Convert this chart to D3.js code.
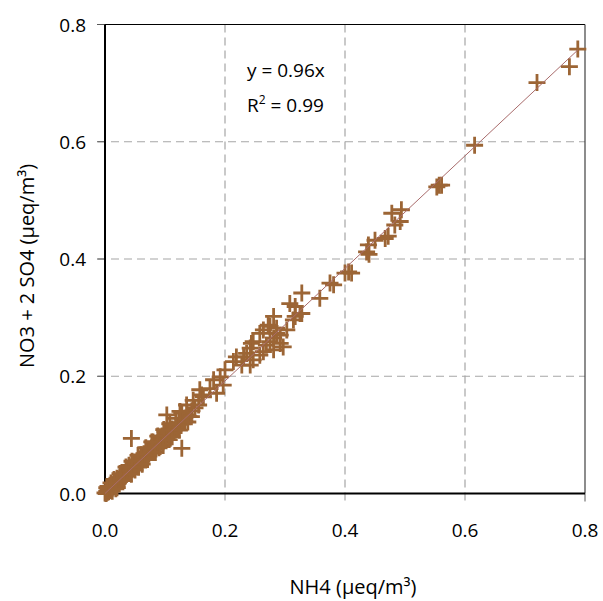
<!DOCTYPE html>
<html>
<head>
<meta charset="utf-8">
<script src="https://cdn.jsdelivr.net/npm/d3@7"></script>
<style>
  body { margin: 0; background: #fff; }
  text { font-family: "Open Sans", sans-serif; fill: #000; }
</style>
</head>
<body>
<div id="chart"></div>
<script>
// NH4 (x) and NO3 + 2 SO4 (y), µeq/m³
const nh4 = [
  0.000, 0.002, 0.003, 0.004, 0.005, 0.006, 0.007, 0.008, 0.009, 0.010,
  0.011, 0.012, 0.013, 0.014, 0.015, 0.016, 0.017, 0.018, 0.019, 0.020,
  0.021, 0.022, 0.023, 0.024, 0.025, 0.026, 0.027, 0.028, 0.029, 0.030,
  0.031, 0.032, 0.033, 0.034, 0.035, 0.036, 0.037, 0.038, 0.039, 0.040,
  0.041, 0.042, 0.043, 0.044, 0.045, 0.046, 0.047, 0.048, 0.049, 0.050,
  0.052, 0.053, 0.054, 0.055, 0.057, 0.058, 0.060, 0.061, 0.063, 0.064,
  0.066, 0.067, 0.069, 0.070, 0.072, 0.073, 0.075, 0.076, 0.078, 0.080,
  0.082, 0.083, 0.085, 0.087, 0.089, 0.090, 0.092, 0.094, 0.096, 0.098,
  0.100, 0.102, 0.104, 0.106, 0.108, 0.110, 0.112, 0.115, 0.118, 0.120,
  0.123, 0.126, 0.130, 0.133, 0.137, 0.140, 0.145, 0.150,
  0.005, 0.012, 0.020, 0.030, 0.040, 0.050, 0.060, 0.070, 0.080, 0.090,
  0.100, 0.110, 0.065, 0.085, 0.095, 0.115,
  0.015, 0.025, 0.035, 0.045, 0.055, 0.068, 0.078, 0.088, 0.098, 0.108,
  0.118, 0.128, 0.020, 0.032, 0.044, 0.056, 0.071, 0.084, 0.097, 0.112,
  0.124, 0.138, 0.010, 0.003, 0.018, 0.062, 0.092, 0.107,
  0.044, 0.128, 0.103, 0.136, 0.144, 0.125, 0.161,
  0.147, 0.156, 0.164, 0.158, 0.186, 0.175, 0.197, 0.181, 0.192, 0.200,
  0.242, 0.214, 0.219, 0.258, 0.236, 0.244, 0.269, 0.292, 0.258, 0.286,
  0.275, 0.314, 0.328, 0.317,
  0.228, 0.247, 0.231, 0.281, 0.264, 0.242, 0.247, 0.275, 0.297, 0.281,
  0.303, 0.292, 0.286, 0.264, 0.272, 0.281, 0.317, 0.325, 0.308, 0.358,
  0.328, 0.375, 0.381, 0.400, 0.406, 0.411,
  0.440, 0.436, 0.439, 0.450, 0.467, 0.472, 0.483, 0.492, 0.478, 0.494,
  0.553, 0.557, 0.561, 0.616, 0.720, 0.774, 0.788
];
const no3so4 = [
  0.001, 0.000, 0.004, 0.002, 0.006, 0.003, 0.009, 0.005, 0.010, 0.007,
  0.012, 0.009, 0.014, 0.011, 0.016, 0.013, 0.018, 0.015, 0.020, 0.017,
  0.023, 0.019, 0.024, 0.021, 0.027, 0.022, 0.028, 0.025, 0.031, 0.026,
  0.032, 0.029, 0.035, 0.030, 0.036, 0.033, 0.039, 0.034, 0.040, 0.036,
  0.043, 0.038, 0.044, 0.040, 0.047, 0.042, 0.048, 0.044, 0.051, 0.046,
  0.052, 0.048, 0.055, 0.050, 0.058, 0.053, 0.060, 0.056, 0.064, 0.058,
  0.066, 0.061, 0.069, 0.064, 0.072, 0.067, 0.075, 0.070, 0.078, 0.074,
  0.082, 0.077, 0.085, 0.081, 0.089, 0.084, 0.092, 0.088, 0.096, 0.091,
  0.099, 0.095, 0.103, 0.099, 0.106, 0.102, 0.110, 0.107, 0.115, 0.112,
  0.121, 0.118, 0.128, 0.124, 0.134, 0.131, 0.141, 0.146,
  0.012, 0.004, 0.026, 0.022, 0.048, 0.040, 0.066, 0.058, 0.088, 0.078,
  0.106, 0.097, 0.068, 0.076, 0.098, 0.104,
  0.024, 0.034, 0.045, 0.055, 0.065, 0.078, 0.088, 0.098, 0.109, 0.119,
  0.128, 0.137, 0.010, 0.022, 0.033, 0.045, 0.058, 0.070, 0.082, 0.097,
  0.108, 0.122, 0.018, 0.010, 0.008, 0.050, 0.080, 0.092,
  0.094, 0.077, 0.134, 0.151, 0.131, 0.140, 0.168,
  0.159, 0.151, 0.165, 0.177, 0.171, 0.179, 0.185, 0.194, 0.199, 0.211,
  0.219, 0.225, 0.233, 0.236, 0.239, 0.256, 0.253, 0.256, 0.273, 0.273,
  0.285, 0.296, 0.307, 0.319,
  0.219, 0.228, 0.233, 0.245, 0.242, 0.248, 0.259, 0.259, 0.250, 0.265,
  0.279, 0.270, 0.282, 0.279, 0.287, 0.302, 0.302, 0.307, 0.324, 0.333,
  0.342, 0.359, 0.356, 0.376, 0.378, 0.376,
  0.408, 0.412, 0.424, 0.432, 0.435, 0.439, 0.458, 0.464, 0.478, 0.484,
  0.523, 0.526, 0.526, 0.594, 0.701, 0.728, 0.758
];
const xTicks = [0, 0.2, 0.4, 0.6, 0.8];
const yTicks = [0, 0.2, 0.4, 0.6, 0.8];
const slope = 0.96;
const eqText = "y = 0.96x";
const r2Text = "0.99";

const W = 603, H = 601;
const svg = d3.select("#chart").append("svg")
  .attr("width", W).attr("height", H);

const x = d3.scaleLinear().domain([0, 0.8]).range([105, 585]);
const y = d3.scaleLinear().domain([0, 0.8]).range([493.5, 24.5]);

// gridlines
svg.append("g").selectAll("line").data(xTicks.slice(1, -1)).join("line")
  .attr("x1", d => x(d)).attr("x2", d => x(d))
  .attr("y1", y(0.8)).attr("y2", y(0) + 7)
  .attr("stroke", "#a6a6a6").attr("stroke-width", 1.2)
  .attr("stroke-dasharray", "8,5");
svg.append("g").selectAll("line").data(yTicks.slice(1, -1)).join("line")
  .attr("x1", x(0) - 7).attr("x2", x(0.8))
  .attr("y1", d => y(d)).attr("y2", d => y(d))
  .attr("stroke", "#a6a6a6").attr("stroke-width", 1.2)
  .attr("stroke-dasharray", "8,5");

// tick marks
svg.append("g").selectAll("line").data(yTicks).join("line")
  .attr("x1", x(0) - 8).attr("x2", x(0))
  .attr("y1", d => y(d)).attr("y2", d => y(d))
  .attr("stroke", "#595959").attr("stroke-width", 1);
svg.append("g").selectAll("line").data([0, 0.8]).join("line")
  .attr("x1", d => x(d)).attr("x2", d => x(d))
  .attr("y1", y(0)).attr("y2", y(0) + 8)
  .attr("stroke", "#595959").attr("stroke-width", 1);

// frame
svg.append("line").attr("x1", x(0)).attr("x2", x(0.8))
  .attr("y1", y(0.8)).attr("y2", y(0.8))
  .attr("stroke", "#000").attr("stroke-width", 1.2);
svg.append("line").attr("x1", x(0.8)).attr("x2", x(0.8))
  .attr("y1", y(0.8)).attr("y2", y(0))
  .attr("stroke", "#404040").attr("stroke-width", 1.2);
svg.append("line").attr("x1", x(0)).attr("x2", x(0))
  .attr("y1", y(0.8)).attr("y2", y(0))
  .attr("stroke", "#000").attr("stroke-width", 2);
svg.append("line").attr("x1", x(0)).attr("x2", x(0.8))
  .attr("y1", y(0)).attr("y2", y(0))
  .attr("stroke", "#000").attr("stroke-width", 2);

// tick labels
svg.append("g").selectAll("text").data(yTicks).join("text")
  .attr("x", x(0) - 19).attr("y", d => y(d) + 7)
  .attr("text-anchor", "end").style("font-size", "19px")
  .text(d => d.toFixed(1));
svg.append("g").selectAll("text").data(xTicks).join("text")
  .attr("x", d => x(d)).attr("y", 537)
  .attr("text-anchor", "middle").style("font-size", "19px")
  .text(d => d.toFixed(1));

// axis titles
svg.append("text").attr("x", 353).attr("y", 594)
  .attr("text-anchor", "middle").style("font-size", "20px")
  .text("NH4 (µeq/m³)");
svg.append("text")
  .attr("transform", `translate(34, 266) rotate(-90)`)
  .attr("text-anchor", "middle").style("font-size", "20px")
  .text("NO3 + 2 SO4 (µeq/m³)");

// points
const pts = nh4.map((d, i) => ({x: d, y: no3so4[i]}));
svg.append("g").selectAll("path").data(pts).join("path")
  .attr("transform", d => `translate(${x(d.x)},${y(d.y)})`)
  .attr("d", "M-8.5,0H8.5M0,-8.5V8.5")
  .attr("stroke", "#9c6535").attr("stroke-width", 2.8)
  .attr("fill", "none");

// trend line
const xMax = d3.max(nh4);
svg.append("line")
  .attr("x1", x(0)).attr("y1", y(0))
  .attr("x2", x(xMax)).attr("y2", y(slope * xMax))
  .attr("stroke", "#a86b6b").attr("stroke-width", 1);

// equation
svg.append("text").attr("x", 247).attr("y", 77)
  .style("font-size", "19px").text(eqText);
const r2 = svg.append("text").attr("x", 247).attr("y", 112)
  .style("font-size", "19px");
r2.append("tspan").text("R");
r2.append("tspan").attr("dy", -8).style("font-size", "12px").text("2");
r2.append("tspan").attr("dy", 8).text(" = " + r2Text);
</script>
</body>
</html>
